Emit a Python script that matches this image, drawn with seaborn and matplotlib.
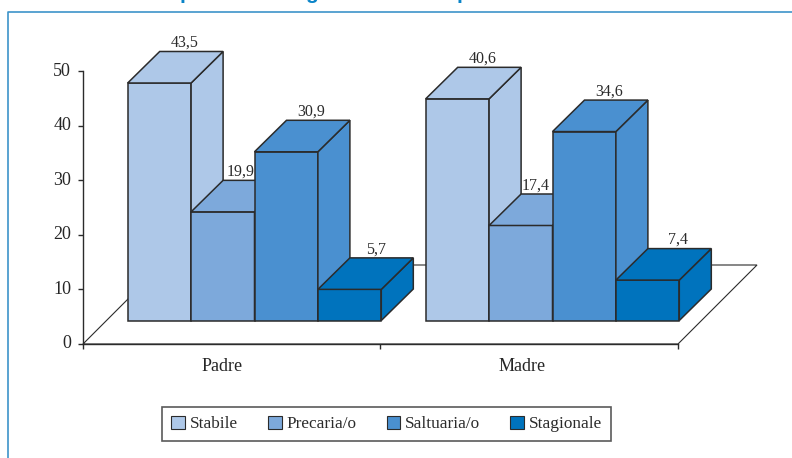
import matplotlib
matplotlib.use('Agg')
import matplotlib.pyplot as plt
from matplotlib.patches import Polygon, Patch, Rectangle
from matplotlib.transforms import ScaledTranslation
import seaborn as sns
import pandas as pd

GROUPS = ['Padre', 'Madre']
SERIES = ['Stabile', 'Precaria/o', 'Saltuaria/o', 'Stagionale']
PADRE = [43.5, 19.9, 30.9, 5.7]
MADRE = [40.6, 17.4, 34.6, 7.4]
COLORS = ['#aec8e8', '#7da9db', '#4a90d0', '#0073bd']
YTICKS = [0, 10, 20, 30, 40, 50]

W, H = 792, 458
DARK = '#2b2b2b'
FRAME = '#3d94c9'

# pixel layout of the fake 3d box
AX_L, AX_R, AX_T, AX_B = 83, 678, 71, 344
GROUP_STEP = 298.0
BAR_W = 63.4 / GROUP_STEP
PX_X = 1 / GROUP_STEP
PX_Y = 50 / (AX_B - AX_T)
FLOOR = 23.5 * PX_Y
DX, DY = 32 * PX_X, 31.5 * PX_Y
LABEL_SHIFT = [25, 17.5, 25, 26, 25, 14.5, 25, 30]

sns.set_theme(style='white')
plt.rcParams['font.family'] = ['Liberation Serif', 'DejaVu Serif']
plt.rcParams['text.color'] = DARK

df = pd.DataFrame({
    'group': [g for g in GROUPS for _ in SERIES],
    'tipo': SERIES * 2,
    'val': PADRE + MADRE,
})

fig = plt.figure(figsize=(W / 100, H / 100), dpi=100)
ax = fig.add_axes([AX_L / W, 1 - AX_B / H, (AX_R - AX_L) / W, (AX_B - AX_T) / H])
ax.patch.set_alpha(0)

sns.barplot(data=df, x='group', y='val', hue='tipo', order=GROUPS, hue_order=SERIES,
            palette=COLORS, width=4 * BAR_W, gap=0, saturation=1, legend=False, ax=ax)

x0 = -(254.5 - AX_L) * PX_X
x1 = (AX_R - 254.5) * PX_X
ax.set_xlim(x0, x1)
ax.set_ylim(0, 50)

# side and top faces, left to right so later bars cover earlier ones
bars = sorted([b for b in ax.patches if isinstance(b, Rectangle)], key=lambda b: b.get_x())

# floor of the 3d box
floor_dx, floor_dy = 79 * PX_X, 79 * PX_Y
ax.add_patch(Polygon([(x0, 0), (x0 + floor_dx, floor_dy), (x1 + floor_dx, floor_dy), (x1, 0)],
                     closed=True, fc='white', ec=DARK, lw=0.8, clip_on=False, zorder=1))

z = 3
for bar, shift in zip(bars, LABEL_SHIFT):
    h = bar.get_height()
    x = bar.get_x()
    w = bar.get_width()
    color = bar.get_facecolor()
    bar.set_y(FLOOR)
    bar.set(edgecolor=DARK, linewidth=1.1, zorder=z, clip_on=False)
    top = FLOOR + h
    ax.add_patch(Polygon([(x + w, FLOOR), (x + w + DX, FLOOR + DY), (x + w + DX, top + DY), (x + w, top)],
                         closed=True, fc=color, ec=DARK, lw=1.1, clip_on=False, zorder=z))
    ax.add_patch(Polygon([(x, top), (x + DX, top + DY), (x + w + DX, top + DY), (x + w, top)],
                         closed=True, fc=color, ec=DARK, lw=1.1, clip_on=False, zorder=z))
    label = f'{h:.1f}'.replace('.', ',')
    ax.text(x + w / 2 + shift * PX_X, top + DY + 4.5 * PX_Y, label, ha='center', va='baseline',
            fontsize=11.5, zorder=20, clip_on=False)
    z += 1

sns.despine(ax=ax)
for s in ['left', 'bottom']:
    ax.spines[s].set_color(DARK)
    ax.spines[s].set_linewidth(1.0)
    ax.spines[s].set_zorder(2)

ax.set_xlabel('')
ax.set_ylabel('')
ax.set_yticks(YTICKS)
ax.set_yticklabels([str(v) for v in YTICKS], fontsize=13)
ax.set_xticks([x0, (380 - 254.5) * PX_X, x1])
ax.set_xticklabels(['', '', ''])
ax.set_xticks([(222 - 254.5) * PX_X, (522 - 254.5) * PX_X], labels=GROUPS, minor=True, fontsize=13)
ax.tick_params(axis='y', which='major', left=True, length=3.6, width=1, color=DARK, pad=5)
ax.tick_params(axis='x', which='major', bottom=True, length=3.6, width=1, color=DARK)
ax.tick_params(axis='x', which='minor', bottom=False, pad=6)

# y labels sit a little above their ticks in the reference
nudge = ScaledTranslation(0, 2 / 100, fig.dpi_scale_trans)
for t in ax.get_yticklabels():
    t.set_transform(t.get_transform() + nudge)

# outer blue frame, runs off the picture on the right and bottom
fig.add_artist(plt.Line2D([7.5 / W, 7.5 / W, 1], [0, 1 - 12 / H, 1 - 12 / H],
                          color=FRAME, lw=1.2, transform=fig.transFigure))

# cut off title above the frame, only the descenders are in the picture
for px, ch in [(186.5, 'p'), (311.5, 'g'), (463, 'p')]:
    fig.text(px / W, 1 + 1 / H, ch, ha='center', va='baseline', fontsize=15, fontweight='bold',
             color='#0a84c8', family='Liberation Sans')

handles = [Patch(fc=c, ec=DARK, lw=0.8) for c in COLORS]
leg = fig.legend(handles, SERIES, ncol=4, loc='center', bbox_to_anchor=(386.8 / W, 1 - 424 / H),
                 fontsize=12.4, frameon=True, fancybox=False, framealpha=1, edgecolor='#5a5a5a',
                 handlelength=0.78, handleheight=0.78, handletextpad=0.3, columnspacing=1.74,
                 borderpad=0.52, borderaxespad=0)
leg.get_frame().set_linewidth(1.2)

fig.savefig('out.png', dpi=100)
